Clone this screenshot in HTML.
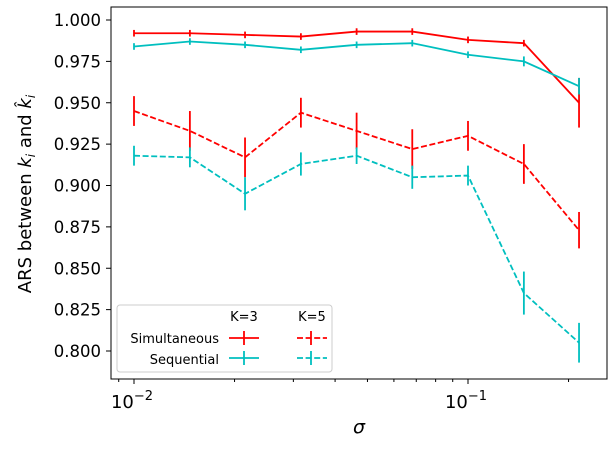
<!DOCTYPE html>
<html><head><meta charset="utf-8"><style>
body{margin:0;background:#fff}
svg{font-family:"DejaVu Sans","Liberation Sans",sans-serif}
</style></head><body>
<svg id="chart" width="616" height="445" viewBox="0 0 616 445" xmlns="http://www.w3.org/2000/svg">
<rect x="0" y="0" width="616" height="445" fill="#fff"/>
<g id="plot"></g>
<rect x="111" y="7" width="496" height="372" fill="none" stroke="#000" stroke-width="1"/>
<g>
<rect x="117" y="305" width="215" height="67" rx="3" fill="#fff" fill-opacity="0.8" stroke="#ccc"/>
<text x="244" y="321" font-size="13" text-anchor="middle">K=3</text>
<text x="312" y="321" font-size="13" text-anchor="middle">K=5</text>
<text x="219" y="343" font-size="13" text-anchor="end">Simultaneous</text>
<text x="219" y="364" font-size="13" text-anchor="end">Sequential</text>
<g stroke="#ff0000" stroke-width="1.8"><line x1="229" y1="338" x2="259" y2="338"/><line x1="244" y1="331" x2="244" y2="345"/>
<line x1="297" y1="338" x2="327" y2="338" stroke-dasharray="6,2.6"/><line x1="311" y1="331" x2="311" y2="345"/></g>
<g stroke="#00bfbf" stroke-width="1.8"><line x1="229" y1="358" x2="259" y2="358"/><line x1="244" y1="351" x2="244" y2="365"/>
<line x1="297" y1="358" x2="327" y2="358" stroke-dasharray="6,2.6"/><line x1="311" y1="351" x2="311" y2="365"/></g>
</g>
<text x="359" y="433" font-size="19" font-style="italic" text-anchor="middle">σ</text>
<text transform="translate(31,194) rotate(-90)" font-size="18" text-anchor="middle">ARS between <tspan font-style="italic">k</tspan><tspan font-size="12" font-style="italic" dy="4">i</tspan><tspan dy="-4"> and </tspan><tspan font-style="italic">k̂</tspan><tspan font-size="12" font-style="italic" dy="4">i</tspan></text>
</svg>
<script>
const sigmas=[0.01,0.0147,0.0215,0.0316,0.0464,0.0681,0.1,0.147,0.215];
const k3Sim=[0.992,0.992,0.991,0.990,0.993,0.993,0.988,0.986,0.950];
const k3SimErr=[0.002,0.002,0.002,0.002,0.002,0.002,0.002,0.002,0.015];
const k3Seq=[0.984,0.987,0.985,0.982,0.985,0.986,0.979,0.975,0.960];
const k3SeqErr=[0.002,0.002,0.002,0.002,0.002,0.002,0.002,0.003,0.005];
const k5Sim=[0.945,0.933,0.917,0.944,0.933,0.922,0.930,0.913,0.873];
const k5SimErr=[0.009,0.012,0.012,0.009,0.011,0.012,0.009,0.012,0.011];
const k5Seq=[0.918,0.917,0.895,0.913,0.918,0.905,0.906,0.835,0.805];
const k5SeqErr=[0.006,0.006,0.010,0.007,0.005,0.007,0.006,0.013,0.012];
const yTicks=[0.800,0.825,0.850,0.875,0.900,0.925,0.950,0.975,1.000];
const ns="http://www.w3.org/2000/svg";
const X=v=>134+(Math.log10(v)+2)*334;
const Y=v=>351-(v-0.8)/0.2*331;
const g=document.getElementById('plot');
function mk(t,a){const e=document.createElementNS(ns,t);for(const k in a)e.setAttribute(k,a[k]);g.appendChild(e);return e;}
yTicks.forEach(t=>{
 const l=mk('line',{x1:106,x2:111,y1:Y(t),y2:Y(t),stroke:'#000'});
 
 
 const tx=mk('text',{x:101,y:Y(t)+6,'font-size':16.5,'text-anchor':'end'});
 
 
 tx.textContent=t.toFixed(3);
});
for(let d=-3;d<=0;d++)for(let m=1;m<10;m++){
 const v=m*Math.pow(10,d),x=X(v);
 if(x<111||x>607)continue;
 const l=mk('line',{x1:x,x2:x,y1:379,y2:m==1?384:382,stroke:'#000'});
 
 
 if(m==1){
  const tx=mk('text',{x:x-2,y:408,'font-size':18,'text-anchor':'middle'});
  
  
  tx.innerHTML='10<tspan font-size="13" dy="-8">−'+(-d)+'</tspan>';
 }
}
function series(vals,errs,color,dash,name){
 const pts=vals.map((v,i)=>X(sigmas[i])+','+Y(v)).join(' ');
 const p=mk('polyline',{points:pts,fill:'none',stroke:color,'stroke-width':1.8});
 if(dash)p.setAttribute('stroke-dasharray','6,2.6');
 
 
 vals.forEach((v,i)=>{
  const x=X(sigmas[i]);
  const e=mk('line',{x1:x,x2:x,y1:Y(v-errs[i]),y2:Y(v+errs[i]),stroke:color,'stroke-width':1.8});
  
  
 });
}
series(k3Sim,k3SimErr,'#ff0000',false,'k3-simultaneous');
series(k3Seq,k3SeqErr,'#00bfbf',false,'k3-sequential');
series(k5Sim,k5SimErr,'#ff0000',true,'k5-simultaneous');
series(k5Seq,k5SeqErr,'#00bfbf',true,'k5-sequential');
</script>
</body></html>
